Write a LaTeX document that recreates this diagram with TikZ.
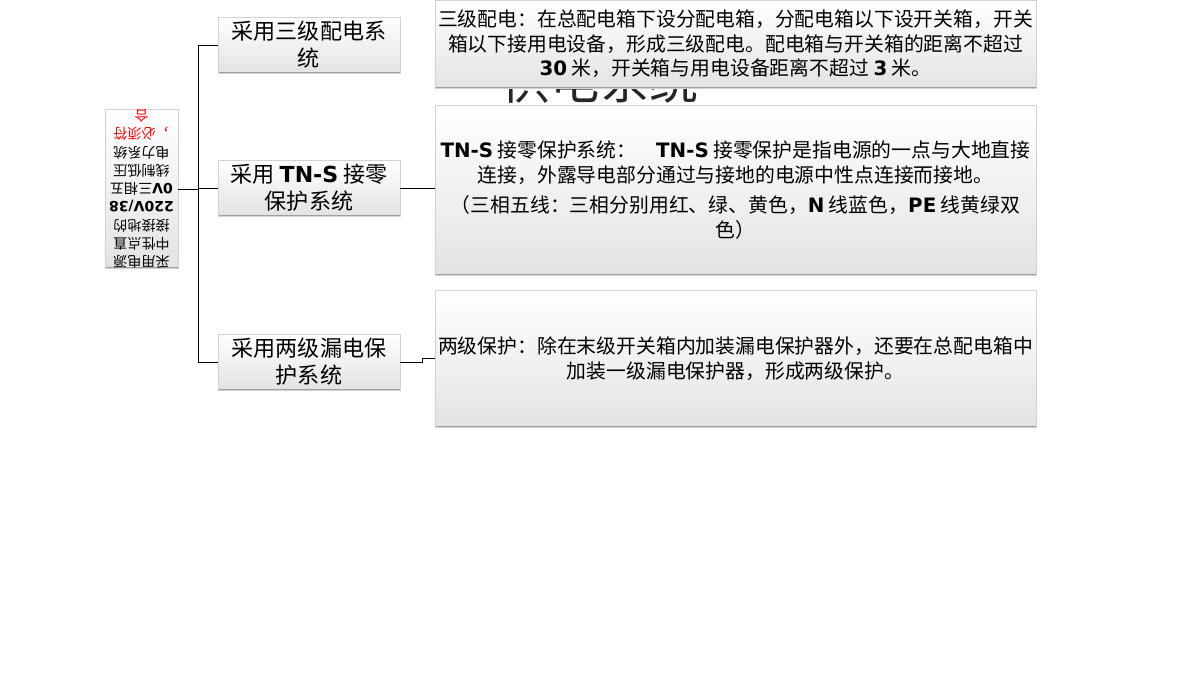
\documentclass[tikz,border=0pt]{standalone}
\usepackage{fontspec}
\setmainfont{Noto Sans CJK SC}
\newfontfamily\latfont{DejaVu Sans}
\newcommand{\latb}[1]{{\latfont\bfseries #1}}
\usetikzlibrary{calc}
\tikzset{
	branchbox/.style={draw=gray!35, top color=white, bottom color=gray!22,
		minimum width=4.55cm, minimum height=1.4cm, inner sep=0pt, align=center,
		font=\fontsize{15.7}{19.2}\selectfont,
		path picture={\draw[gray!75, line width=1.6pt] (path picture bounding box.south west) -- (path picture bounding box.south east);}},
	notebox/.style={branchbox, minimum width=15.025cm, font=\fontsize{14.1}{17.5}\selectfont},
	rootbox/.style={branchbox, rotate=180, minimum width=1.825cm, minimum height=3.95cm,
		font=\fontsize{10}{13}\selectfont},
	link/.style={black, line width=0.7pt}
}

\begin{document}
\begin{tikzpicture}[x=0.025cm, y=-0.025cm]
		%%%%% START %%%%%
		\fill[white] (0,0) rectangle (1200,674);
		\useasboundingbox (0,0) rectangle (1200,674);
		
		% left root, printed upside down
		\node[rootbox] (root) at (141.5,189) {采用电源\\中性点直\\接接地的\\\latb{220V/38}\\\latb{0V}三相五\\线制低压\\电力系统\\\textcolor{red}{，必须符}\\\textcolor{red}{合}};
		
		% branches
		\node[branchbox] (b1) at (309,45) {采用三级配电系\\统};
		\node[branchbox] (b2) at (309,188) {采用 \latb{TN-S} 接零\\保护系统};
		\node[branchbox] (b3) at (309,362) {采用两级漏电保\\护系统};
		
		% half hidden title behind the first note
		\node[font=\fontsize{35}{35}\selectfont, text=black!85] (ghost) at (600,81) {供电系统};
		
		% notes
		\node[notebox, minimum height=2.2cm] (d1) at (735.5,44) {三级配电：在总配电箱下设分配电箱，分配电箱以下设开关箱，开关\\箱以下接用电设备，形成三级配电。配电箱与开关箱的距离不超过\\\latb{30} 米，开关箱与用电设备距离不超过 \latb{3} 米。};
		\node[notebox, minimum height=4.25cm] (d2) at (735.5,190) {\latb{TN-S} 接零保护系统：\quad\latb{TN-S} 接零保护是指电源的一点与大地直接\\连接，外露导电部分通过与接地的电源中性点连接而接地。\\[4pt]（三相五线：三相分别用红、绿、黄色，\latb{N} 线蓝色，\latb{PE} 线黄绿双\\色）};
		\node[notebox, minimum height=3.425cm] (d3) at (735.5,358.5) {两级保护：除在末级开关箱内加装漏电保护器外，还要在总配电箱中\\加装一级漏电保护器，形成两级保护。};
		
		% connectors
		\coordinate (trunk) at (198,189);
		\draw[link] (root.west) -- (trunk);
		\draw[link] (trunk) |- (b1.west);
		\draw[link] (trunk) |- (b2.west);
		\draw[link] (trunk) |- (b3.west);
		\draw[link] (b2.east) -- (b2.east -| d2.west);
		\draw[link] (b3.east) -- ++(22,0) |- (d3.west);
		%%%%% END %%%%%
\end{tikzpicture}
\end{document}
